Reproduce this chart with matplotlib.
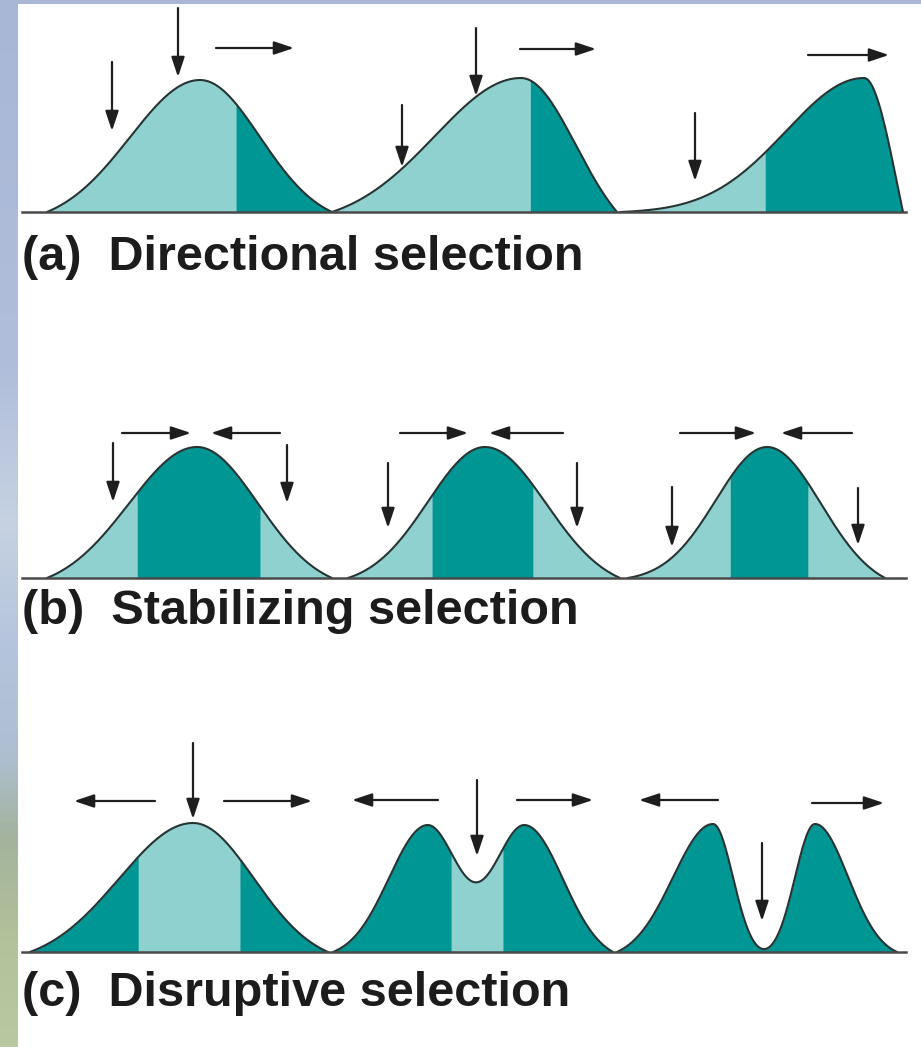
import numpy as np
import matplotlib
matplotlib.use("Agg")
import matplotlib.pyplot as plt
from matplotlib.colors import LinearSegmentedColormap

# ---------------- data ----------------
panel_labels = ["(a)  Directional selection",
                "(b)  Stabilizing selection",
                "(c)  Disruptive selection"]

# each distribution: span (start, end), components (mean, sd_left, sd_right, weight), height
panel_a_spans = [(47, 332), (332, 617), (620, 903)]
panel_a_components = [[(200, 70, 60, 1.0)],
                      [(521, 86, 55, 1.0)],
                      [(864, 78, 33, 1.0)]]
panel_a_heights = [132, 134, 134]
panel_a_dark = [[(236, 332)], [(530, 617)], [(765, 903)]]

panel_b_spans = [(47, 332), (348, 620), (628, 885)]
panel_b_components = [[(197, 68, 61, 1.0)],
                      [(485, 57, 61, 1.0)],
                      [(767, 51, 54, 1.0)]]
panel_b_heights = [131, 131, 131]
panel_b_dark = [[(137, 260)], [(432, 533)], [(730, 808)]]

panel_c_spans = [(30, 328), (333, 613), (617, 897)]
panel_c_components = [[(193, 74, 61, 1.0)],
                      [(427, 38, 31, 1.0), (525, 31, 38, 1.0)],
                      [(713, 40, 20, 1.0), (815, 20, 33, 1.0)]]
panel_c_heights = [129, 127, 128]
panel_c_light = [[(138, 240)], [(451, 503)], []]

# ---------------- layout ----------------
W, H = 921, 1047
baselines = [212, 578, 952]
label_y = [258, 612, 994]
axis_x = (22, 906)

down_arrows = [  # x, y_start, y_tip
    (112, 62, 131), (178, 8, 77), (402, 105, 167), (476, 28, 96), (695, 113, 181),
    (113, 443, 502), (287, 445, 503), (388, 463, 528), (577, 463, 528),
    (672, 487, 547), (858, 488, 545),
    (193, 743, 819), (477, 780, 856), (762, 843, 921)]
horiz_arrows = [  # x_start, x_tip, y
    (216, 294, 48), (520, 596, 49), (808, 889, 55),
    (122, 191, 433), (280, 211, 433), (400, 468, 433), (563, 489, 433),
    (680, 756, 433), (852, 781, 433),
    (155, 74, 801), (224, 312, 801), (438, 352, 800), (517, 593, 800),
    (718, 639, 800), (812, 884, 803)]

LIGHT = "#8fd1cf"
DARK = "#009694"
EDGE = "#263434"
ARROW = "#1e1e1e"


def split_normal(x, mu, sl, sr, w):
    s = np.where(x < mu, sl, sr)
    return w * np.exp(-0.5 * ((x - mu) / s) ** 2)


def profile(span, comps, height):
    x = np.linspace(span[0], span[1], 800)
    f = np.zeros_like(x)
    for c in comps:
        f += split_normal(x, *c)
    i = np.argmax(f)
    fmax = f[i]
    e = np.where(np.arange(len(x)) <= i, f[0], f[-1])
    y = (f - e) / (fmax - e) * height
    return x, np.clip(y, 0, None)


fig = plt.figure(figsize=(W / 100, H / 100), dpi=100)
fig.patch.set_facecolor("white")
ax = fig.add_axes([0, 0, 1, 1])
ax.set_xlim(0, W)
ax.set_ylim(H, 0)
ax.axis("off")

# background strips (slide template)
bg = LinearSegmentedColormap.from_list(
    "bg", [(0.0, "#a9b7d7"), (0.35, "#b0bedb"), (0.5, "#c6d2e2"),
           (0.62, "#b4c4dc"), (0.72, "#aebfd2"), (0.8, "#a3b39d"),
           (0.9, "#b2c29a"), (1.0, "#b8c8a0")])
grad = np.linspace(0, 1, 256).reshape(-1, 1)
ax.imshow(grad, cmap=bg, extent=[0, 17, H, 0], aspect="auto", zorder=0)
ax.fill_between([0, W], 0, 4, color="#a9b7d7", lw=0, zorder=0)

panels = [
    (panel_a_spans, panel_a_components, panel_a_heights, "light_base", panel_a_dark),
    (panel_b_spans, panel_b_components, panel_b_heights, "light_base", panel_b_dark),
    (panel_c_spans, panel_c_components, panel_c_heights, "dark_base", panel_c_light),
]

for r, (spans, comps, heights, mode, regions) in enumerate(panels):
    b = baselines[r]
    for span, comp, h, reg in zip(spans, comps, heights, regions):
        x, y = profile(span, comp, h)
        base_col = LIGHT if mode == "light_base" else DARK
        over_col = DARK if mode == "light_base" else LIGHT
        ax.fill_between(x, b, b - y, color=base_col, lw=0, zorder=2)
        for (r0, r1) in reg:
            m = (x >= r0) & (x <= r1)
            ax.fill_between(x[m], b, b - y[m], color=over_col, lw=0, zorder=3)
        ax.plot(x, b - y, color=EDGE, lw=1.5, zorder=4, solid_capstyle="round")
    ax.plot(axis_x, [b, b], color="#4a4a4a", lw=1.8, zorder=5)
    ax.text(22, label_y[r], panel_labels[r], fontsize=35, fontweight="bold",
            family=["Liberation Sans", "DejaVu Sans"], color="#1c1c1c",
            ha="left", va="center", zorder=6)

aprops = dict(arrowstyle="-|>,head_length=0.6,head_width=0.2", lw=1.6,
              color=ARROW, shrinkA=0, shrinkB=0, mutation_scale=20)
for (x, y0, y1) in down_arrows:
    ax.annotate("", xy=(x, y1), xytext=(x, y0), arrowprops=aprops, zorder=7)
for (x0, x1, y) in horiz_arrows:
    ax.annotate("", xy=(x1, y), xytext=(x0, y), arrowprops=aprops, zorder=7)

fig.savefig("out.png", dpi=100, facecolor="white")
